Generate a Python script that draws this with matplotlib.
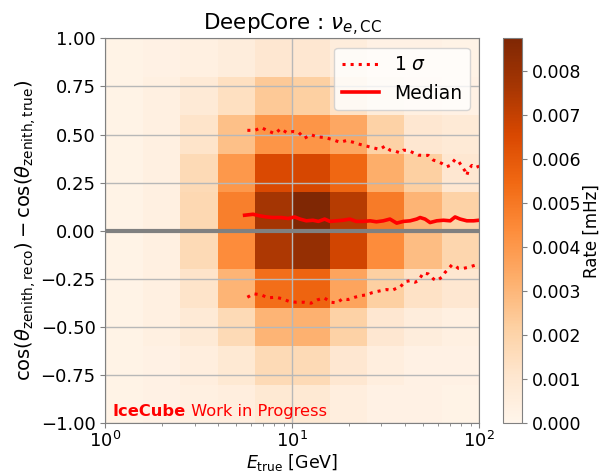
import numpy as np
import matplotlib
matplotlib.use('Agg')
import matplotlib.pyplot as plt

# bin edges of the 2D histogram
e_edges = [1.0, 1.585, 2.512, 3.981, 6.310, 10.0, 15.85, 25.12, 39.81, 63.10, 100.0]
dcos_edges = [-1.0, -0.8, -0.6, -0.4, -0.2, 0.0, 0.2, 0.4, 0.6, 0.8, 1.0]

# rate per bin [mHz], rows from dcos=-1 (bottom) to dcos=+1 (top)
rate_rows = [
    [0.0002, 0.0003, 0.0004, 0.0005, 0.0009, 0.0009, 0.0005, 0.0003, 0.0003, 0.0002],
    [0.0002, 0.0003, 0.0005, 0.0009, 0.0017, 0.0017, 0.0010, 0.0005, 0.0003, 0.0003],
    [0.0002, 0.0004, 0.0008, 0.0017, 0.0031, 0.0032, 0.0021, 0.0010, 0.0006, 0.0004],
    [0.0002, 0.0004, 0.0012, 0.0031, 0.0053, 0.0056, 0.0036, 0.0022, 0.0013, 0.0010],
    [0.0002, 0.0004, 0.0017, 0.0044, 0.0075, 0.0081, 0.0067, 0.0044, 0.0028, 0.0019],
    [0.0002, 0.0004, 0.0018, 0.0048, 0.0077, 0.00874, 0.0073, 0.0049, 0.0031, 0.0021],
    [0.0002, 0.0004, 0.0017, 0.0040, 0.0065, 0.0066, 0.0055, 0.0033, 0.0022, 0.0010],
    [0.0002, 0.0004, 0.0012, 0.0027, 0.0041, 0.0041, 0.0035, 0.0021, 0.0010, 0.0008],
    [0.0002, 0.0004, 0.0008, 0.0014, 0.0024, 0.0022, 0.0013, 0.0007, 0.0004, 0.0003],
    [0.0002, 0.0003, 0.0004, 0.0006, 0.0010, 0.0010, 0.0006, 0.0003, 0.0003, 0.0002],
]

# upper 1 sigma band
up_e = [5.75, 6.30, 6.84, 7.42, 8.06, 8.68, 9.38, 10.1, 10.8, 11.6, 12.6, 13.6, 14.9, 16.4,
        18.0, 19.5, 21.2, 23.0, 25.0, 27.1, 29.4, 31.3, 33.3, 35.5, 37.7, 39.3, 41.8, 44.5,
        47.3, 50.2, 53.5, 56.9, 59.3, 63.1, 67.1, 70.0, 74.3, 77.4, 80.7, 84.1, 85.9, 87.7,
        91.4, 95.3, 100.0]
up_val = [0.522, 0.522, 0.536, 0.519, 0.505, 0.530, 0.509, 0.516, 0.512, 0.481, 0.499, 0.488,
          0.485, 0.474, 0.460, 0.469, 0.460, 0.449, 0.440, 0.431, 0.423, 0.440, 0.419, 0.414,
          0.405, 0.419, 0.417, 0.405, 0.393, 0.392, 0.392, 0.367, 0.362, 0.350, 0.333, 0.340,
          0.371, 0.362, 0.336, 0.310, 0.288, 0.319, 0.340, 0.328, 0.336]

# median
med_e = [5.56, 6.17, 6.70, 7.28, 7.89, 8.75, 9.51, 10.3, 11.0, 11.9, 12.9, 13.8, 14.9, 15.9,
         17.3, 18.7, 20.3, 22.0, 24.0, 26.1, 28.2, 30.7, 33.3, 36.2, 39.3, 42.7, 46.3, 48.3,
         51.3, 54.6, 59.3, 64.4, 70.0, 74.3, 79.1, 85.9, 93.3, 100.0]
med_val = [0.081, 0.086, 0.078, 0.072, 0.069, 0.069, 0.064, 0.072, 0.061, 0.052, 0.055, 0.049,
           0.061, 0.049, 0.052, 0.055, 0.061, 0.049, 0.049, 0.052, 0.047, 0.052, 0.061, 0.040,
           0.049, 0.052, 0.061, 0.069, 0.061, 0.043, 0.052, 0.055, 0.052, 0.072, 0.061, 0.052,
           0.052, 0.055]

# lower 1 sigma band
lo_e = [5.75, 6.22, 6.84, 7.41, 8.17, 8.85, 9.62, 10.5, 11.6, 12.6, 13.6, 14.8, 16.1, 17.3,
        18.6, 19.9, 21.6, 23.5, 25.0, 26.6, 28.2, 30.1, 32.0, 34.0, 36.2, 37.7, 40.1, 42.7,
        45.4, 47.3, 50.2, 53.5, 56.9, 59.3, 63.1, 65.8, 68.4, 71.4, 74.3, 77.4, 82.4, 87.7,
        93.3, 100.0]
lo_val = [-0.345, -0.327, -0.333, -0.348, -0.345, -0.353, -0.367, -0.371, -0.371, -0.376,
          -0.359, -0.348, -0.371, -0.374, -0.353, -0.357, -0.345, -0.336, -0.333, -0.322,
          -0.316, -0.310, -0.305, -0.310, -0.298, -0.293, -0.264, -0.259, -0.267, -0.259,
          -0.219, -0.224, -0.250, -0.259, -0.241, -0.215, -0.198, -0.177, -0.181, -0.195,
          -0.195, -0.189, -0.181, -0.172]

plt.rcParams['font.size'] = 13

fig = plt.figure(figsize=(6.02, 4.73), dpi=100)
ax = fig.add_axes([0.175, 0.105, 0.621, 0.814])
cax = fig.add_axes([0.835, 0.105, 0.0325, 0.814])

mesh = ax.pcolormesh(e_edges, dcos_edges, np.array(rate_rows), cmap='Oranges',
                     vmin=0, vmax=np.max(rate_rows))
ax.set_xscale('log')
ax.set_xlim(1, 100)
ax.set_ylim(-1, 1)
ax.set_yticks([-1.0, -0.75, -0.5, -0.25, 0.0, 0.25, 0.5, 0.75, 1.0])
ax.grid(True, which='major', color='0.72', linewidth=1.0)

ax.axhline(0, color='gray', linewidth=3)
ax.plot(up_e, up_val, color='red', linestyle=':', linewidth=2.2, label=r'1 $\sigma$')
ax.plot(med_e, med_val, color='red', linestyle='-', linewidth=2.6, label='Median')
ax.plot(lo_e, lo_val, color='red', linestyle=':', linewidth=2.2)

for sp in ax.spines.values():
    sp.set_color('0.5')
ax.tick_params(axis='both', which='both', color='0.5', labelsize=13)
ax.tick_params(axis='x', which='major', pad=2)

ax.set_title(r'DeepCore : $\nu_{e,\mathrm{CC}}$', fontsize=15.5)
ax.set_xlabel(r'$E_{\mathrm{true}}$ [GeV]', fontsize=12.5, labelpad=1)
ax.set_ylabel(r'$\cos(\theta_{\mathrm{zenith,reco}})-\cos(\theta_{\mathrm{zenith,true}})$',
              fontsize=14, labelpad=2)

leg = ax.legend(loc='upper right', fontsize=13.5, handlelength=2.0)

t1 = ax.text(0.02, 0.012, 'IceCube', color='red', fontweight='bold', fontsize=11.7,
             transform=ax.transAxes, ha='left', va='bottom')
fig.canvas.draw()
bb = t1.get_window_extent()
x_end = ax.transAxes.inverted().transform((bb.x1, bb.y0))[0]
ax.text(x_end, 0.012, ' Work in Progress', color='red', fontsize=11.7,
        transform=ax.transAxes, ha='left', va='bottom')

cb = fig.colorbar(mesh, cax=cax)
cb.set_ticks([0.000, 0.001, 0.002, 0.003, 0.004, 0.005, 0.006, 0.007, 0.008])
cb.ax.yaxis.set_major_formatter(matplotlib.ticker.FormatStrFormatter('%.3f'))
cb.ax.tick_params(color='0.5', labelsize=12.5)
cb.set_label('Rate [mHz]', fontsize=12, labelpad=1)
cb.outline.set_edgecolor('0.5')

fig.savefig('out.png', dpi=100)
